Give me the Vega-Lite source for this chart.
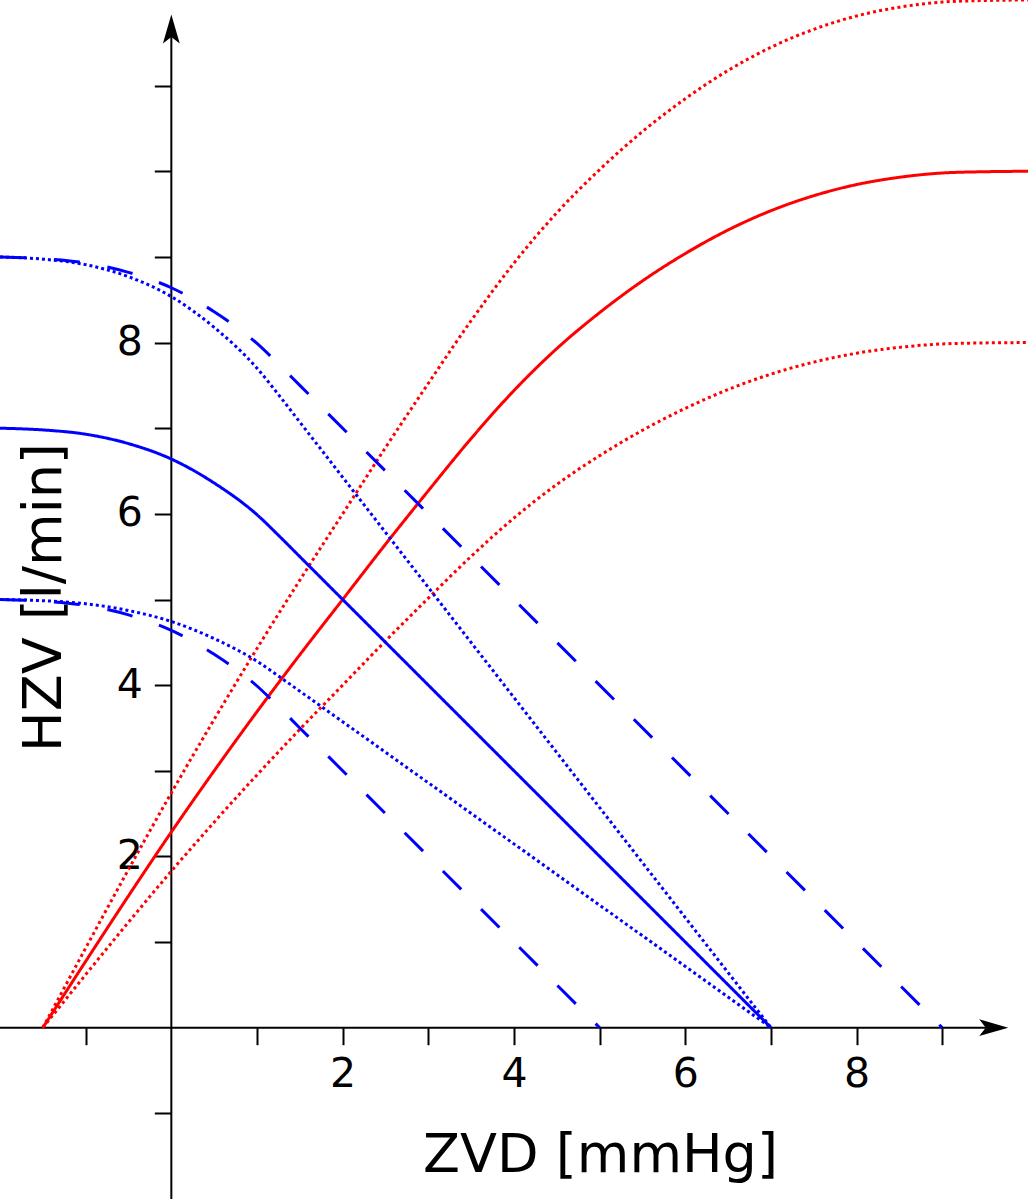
{
  "$schema": "https://vega.github.io/schema/vega-lite/v6.json",
  "description": "Guyton-Diagramm: Herzfunktionskurven (rot) und venoese Rueckstromkurven (blau), HZV gegen ZVD.",
  "width": 1028,
  "height": 1199,
  "autosize": "none",
  "padding": 0,
  "background": "white",
  "config": {"view": {"stroke": null}, "font": "DejaVu Sans"},
  "datasets": {
    "kurven": [
      {"kurve": "herz", "zvd": -1.5, "hzv": 0},
      {"kurve": "herz", "zvd": -1, "hzv": 0.775},
      {"kurve": "herz", "zvd": -0.5, "hzv": 1.54},
      {"kurve": "herz", "zvd": 0, "hzv": 2.285},
      {"kurve": "herz", "zvd": 0.5, "hzv": 3.0},
      {"kurve": "herz", "zvd": 1, "hzv": 3.69},
      {"kurve": "herz", "zvd": 1.5, "hzv": 4.355},
      {"kurve": "herz", "zvd": 2, "hzv": 5.0},
      {"kurve": "herz", "zvd": 2.5, "hzv": 5.645},
      {"kurve": "herz", "zvd": 3, "hzv": 6.27},
      {"kurve": "herz", "zvd": 3.5, "hzv": 6.88},
      {"kurve": "herz", "zvd": 4, "hzv": 7.44},
      {"kurve": "herz", "zvd": 4.5, "hzv": 7.93},
      {"kurve": "herz", "zvd": 5, "hzv": 8.35},
      {"kurve": "herz", "zvd": 5.5, "hzv": 8.72},
      {"kurve": "herz", "zvd": 6, "hzv": 9.04},
      {"kurve": "herz", "zvd": 6.5, "hzv": 9.315},
      {"kurve": "herz", "zvd": 7, "hzv": 9.54},
      {"kurve": "herz", "zvd": 7.5, "hzv": 9.715},
      {"kurve": "herz", "zvd": 8, "hzv": 9.845},
      {"kurve": "herz", "zvd": 8.5, "hzv": 9.93},
      {"kurve": "herz", "zvd": 9, "hzv": 9.98},
      {"kurve": "herz", "zvd": 9.5, "hzv": 9.995},
      {"kurve": "herz", "zvd": 10, "hzv": 10.0},

      {"kurve": "herz_hoch", "zvd": -1.5, "hzv": 0},
      {"kurve": "herz_hoch", "zvd": -1, "hzv": 0.93},
      {"kurve": "herz_hoch", "zvd": -0.5, "hzv": 1.848},
      {"kurve": "herz_hoch", "zvd": 0, "hzv": 2.742},
      {"kurve": "herz_hoch", "zvd": 0.5, "hzv": 3.6},
      {"kurve": "herz_hoch", "zvd": 1, "hzv": 4.428},
      {"kurve": "herz_hoch", "zvd": 1.5, "hzv": 5.226},
      {"kurve": "herz_hoch", "zvd": 2, "hzv": 6.0},
      {"kurve": "herz_hoch", "zvd": 2.5, "hzv": 6.774},
      {"kurve": "herz_hoch", "zvd": 3, "hzv": 7.524},
      {"kurve": "herz_hoch", "zvd": 3.5, "hzv": 8.256},
      {"kurve": "herz_hoch", "zvd": 4, "hzv": 8.928},
      {"kurve": "herz_hoch", "zvd": 4.5, "hzv": 9.516},
      {"kurve": "herz_hoch", "zvd": 5, "hzv": 10.02},
      {"kurve": "herz_hoch", "zvd": 5.5, "hzv": 10.464},
      {"kurve": "herz_hoch", "zvd": 6, "hzv": 10.848},
      {"kurve": "herz_hoch", "zvd": 6.5, "hzv": 11.178},
      {"kurve": "herz_hoch", "zvd": 7, "hzv": 11.448},
      {"kurve": "herz_hoch", "zvd": 7.5, "hzv": 11.658},
      {"kurve": "herz_hoch", "zvd": 8, "hzv": 11.814},
      {"kurve": "herz_hoch", "zvd": 8.5, "hzv": 11.916},
      {"kurve": "herz_hoch", "zvd": 9, "hzv": 11.976},
      {"kurve": "herz_hoch", "zvd": 9.5, "hzv": 11.994},
      {"kurve": "herz_hoch", "zvd": 10, "hzv": 12.0},

      {"kurve": "herz_tief", "zvd": -1.5, "hzv": 0},
      {"kurve": "herz_tief", "zvd": -1, "hzv": 0.62},
      {"kurve": "herz_tief", "zvd": -0.5, "hzv": 1.232},
      {"kurve": "herz_tief", "zvd": 0, "hzv": 1.828},
      {"kurve": "herz_tief", "zvd": 0.5, "hzv": 2.4},
      {"kurve": "herz_tief", "zvd": 1, "hzv": 2.952},
      {"kurve": "herz_tief", "zvd": 1.5, "hzv": 3.484},
      {"kurve": "herz_tief", "zvd": 2, "hzv": 4.0},
      {"kurve": "herz_tief", "zvd": 2.5, "hzv": 4.516},
      {"kurve": "herz_tief", "zvd": 3, "hzv": 5.016},
      {"kurve": "herz_tief", "zvd": 3.5, "hzv": 5.504},
      {"kurve": "herz_tief", "zvd": 4, "hzv": 5.952},
      {"kurve": "herz_tief", "zvd": 4.5, "hzv": 6.344},
      {"kurve": "herz_tief", "zvd": 5, "hzv": 6.68},
      {"kurve": "herz_tief", "zvd": 5.5, "hzv": 6.976},
      {"kurve": "herz_tief", "zvd": 6, "hzv": 7.232},
      {"kurve": "herz_tief", "zvd": 6.5, "hzv": 7.452},
      {"kurve": "herz_tief", "zvd": 7, "hzv": 7.632},
      {"kurve": "herz_tief", "zvd": 7.5, "hzv": 7.772},
      {"kurve": "herz_tief", "zvd": 8, "hzv": 7.876},
      {"kurve": "herz_tief", "zvd": 8.5, "hzv": 7.944},
      {"kurve": "herz_tief", "zvd": 9, "hzv": 7.984},
      {"kurve": "herz_tief", "zvd": 9.5, "hzv": 7.996},
      {"kurve": "herz_tief", "zvd": 10, "hzv": 8.0},

      {"kurve": "venen", "zvd": -2, "hzv": 7.0},
      {"kurve": "venen", "zvd": -1.5, "hzv": 6.98},
      {"kurve": "venen", "zvd": -1, "hzv": 6.93},
      {"kurve": "venen", "zvd": -0.5, "hzv": 6.82},
      {"kurve": "venen", "zvd": 0, "hzv": 6.64},
      {"kurve": "venen", "zvd": 0.5, "hzv": 6.36},
      {"kurve": "venen", "zvd": 1, "hzv": 5.99},
      {"kurve": "venen", "zvd": 1.25, "hzv": 5.75},
      {"kurve": "venen", "zvd": 1.5, "hzv": 5.5},
      {"kurve": "venen", "zvd": 7, "hzv": 0},

      {"kurve": "venen_plus", "zvd": -2, "hzv": 9.0},
      {"kurve": "venen_plus", "zvd": -1.5, "hzv": 8.98},
      {"kurve": "venen_plus", "zvd": -1, "hzv": 8.93},
      {"kurve": "venen_plus", "zvd": -0.5, "hzv": 8.82},
      {"kurve": "venen_plus", "zvd": 0, "hzv": 8.64},
      {"kurve": "venen_plus", "zvd": 0.5, "hzv": 8.36},
      {"kurve": "venen_plus", "zvd": 1, "hzv": 7.99},
      {"kurve": "venen_plus", "zvd": 1.25, "hzv": 7.75},
      {"kurve": "venen_plus", "zvd": 1.5, "hzv": 7.5},
      {"kurve": "venen_plus", "zvd": 9, "hzv": 0},

      {"kurve": "venen_minus", "zvd": -2, "hzv": 5.0},
      {"kurve": "venen_minus", "zvd": -1.5, "hzv": 4.98},
      {"kurve": "venen_minus", "zvd": -1, "hzv": 4.93},
      {"kurve": "venen_minus", "zvd": -0.5, "hzv": 4.82},
      {"kurve": "venen_minus", "zvd": 0, "hzv": 4.64},
      {"kurve": "venen_minus", "zvd": 0.5, "hzv": 4.36},
      {"kurve": "venen_minus", "zvd": 1, "hzv": 3.99},
      {"kurve": "venen_minus", "zvd": 1.25, "hzv": 3.75},
      {"kurve": "venen_minus", "zvd": 1.5, "hzv": 3.5},
      {"kurve": "venen_minus", "zvd": 5, "hzv": 0},

      {"kurve": "venen_steil", "zvd": -2, "hzv": 9.0},
      {"kurve": "venen_steil", "zvd": -1.5, "hzv": 8.974},
      {"kurve": "venen_steil", "zvd": -1, "hzv": 8.91},
      {"kurve": "venen_steil", "zvd": -0.5, "hzv": 8.769},
      {"kurve": "venen_steil", "zvd": 0, "hzv": 8.537},
      {"kurve": "venen_steil", "zvd": 0.5, "hzv": 8.177},
      {"kurve": "venen_steil", "zvd": 1, "hzv": 7.701},
      {"kurve": "venen_steil", "zvd": 1.25, "hzv": 7.393},
      {"kurve": "venen_steil", "zvd": 1.5, "hzv": 7.071},
      {"kurve": "venen_steil", "zvd": 7, "hzv": 0},

      {"kurve": "venen_flach", "zvd": -2, "hzv": 5.0},
      {"kurve": "venen_flach", "zvd": -1.5, "hzv": 4.986},
      {"kurve": "venen_flach", "zvd": -1, "hzv": 4.95},
      {"kurve": "venen_flach", "zvd": -0.5, "hzv": 4.871},
      {"kurve": "venen_flach", "zvd": 0, "hzv": 4.743},
      {"kurve": "venen_flach", "zvd": 0.5, "hzv": 4.543},
      {"kurve": "venen_flach", "zvd": 1, "hzv": 4.279},
      {"kurve": "venen_flach", "zvd": 1.25, "hzv": 4.107},
      {"kurve": "venen_flach", "zvd": 1.5, "hzv": 3.929},
      {"kurve": "venen_flach", "zvd": 7, "hzv": 0}
    ],
    "achsen": [
      {"zvd": -2, "zvd2": 9.6, "hzv": 0, "hzv2": 0},
      {"zvd": 0, "zvd2": 0, "hzv": -2, "hzv2": 11.66}
    ],
    "pfeil_x": [{"zvd": 9.6, "hzv": 0}],
    "pfeil_y": [{"zvd": 0, "hzv": 11.66}]
  },
  "encoding": {
    "x": {
      "field": "zvd",
      "type": "quantitative",
      "scale": {"domain": [-2, 10], "nice": false, "zero": false},
      "axis": {
        "values": [-1, 1, 2, 3, 4, 5, 6, 7, 8, 9],
        "labelExpr": "datum.value % 2 === 0 && datum.value > 0 ? datum.label : ''",
        "offset": -171.3,
        "domain": false,
        "grid": false,
        "tickSize": 17,
        "tickWidth": 2,
        "tickColor": "black",
        "labelFontSize": 41,
        "labelColor": "black",
        "labelPadding": 10,
        "labelFlush": false,
        "labelOverlap": false,
        "title": "ZVD [mmHg]",
        "titleFontSize": 54,
        "titleFontWeight": "normal",
        "titleColor": "black",
        "titleX": 600,
        "titleY": 144,
        "titleAlign": "center",
        "titleBaseline": "alphabetic"
      }
    },
    "y": {
      "field": "hzv",
      "type": "quantitative",
      "scale": {"domain": [-2, 12], "nice": false, "zero": false},
      "axis": {
        "values": [-1, 1, 2, 3, 4, 5, 6, 7, 8, 9, 10, 11],
        "labelExpr": "datum.value % 2 === 0 && datum.value > 0 && datum.value < 10 ? datum.label : ''",
        "offset": -171.3,
        "domain": false,
        "grid": false,
        "tickSize": 17,
        "tickWidth": 2,
        "tickColor": "black",
        "labelFontSize": 41,
        "labelColor": "black",
        "labelPadding": 12,
        "labelOverlap": false,
        "labelFlush": false,
        "title": "HZV [l/min]",
        "titleFontSize": 54,
        "titleFontWeight": "normal",
        "titleColor": "black",
        "titleAngle": 270,
        "titleX": -111,
        "titleY": 597,
        "titleAlign": "center",
        "titleBaseline": "alphabetic"
      }
    }
  },
  "layer": [
    {
      "data": {"name": "achsen"},
      "mark": {"type": "rule", "strokeWidth": 2, "color": "black"},
      "encoding": {
        "x2": {"field": "zvd2"},
        "y2": {"field": "hzv2"}
      }
    },
    {
      "data": {"name": "kurven"},
      "mark": {"type": "line", "strokeWidth": 3, "interpolate": "monotone", "strokeCap": "butt"},
      "encoding": {
        "detail": {"field": "kurve"},
        "color": {
          "field": "kurve",
          "type": "nominal",
          "scale": {
            "domain": ["herz", "herz_hoch", "herz_tief", "venen", "venen_plus", "venen_minus", "venen_steil", "venen_flach"],
            "range": ["#ff0000", "#ff0000", "#ff0000", "#0000ff", "#0000ff", "#0000ff", "#0000ff", "#0000ff"]
          },
          "legend": null
        },
        "strokeDash": {
          "field": "kurve",
          "type": "nominal",
          "scale": {
            "domain": ["herz", "herz_hoch", "herz_tief", "venen", "venen_plus", "venen_minus", "venen_steil", "venen_flach"],
            "range": [[1, 0], [3, 3.2], [3, 3.2], [1, 0], [26, 28], [26, 28], [3, 3], [3, 3]]
          },
          "legend": null
        }
      }
    },
    {
      "data": {"name": "pfeil_x"},
      "mark": {"type": "point", "shape": "M1,0L-1,-0.58L-0.55,0L-1,0.58Z", "filled": true, "size": 841, "color": "black", "opacity": 1, "strokeWidth": 0}
    },
    {
      "data": {"name": "pfeil_y"},
      "mark": {"type": "point", "shape": "M0,-1L-0.58,1L0,0.55L0.58,1Z", "filled": true, "size": 841, "color": "black", "opacity": 1, "strokeWidth": 0}
    }
  ]
}
